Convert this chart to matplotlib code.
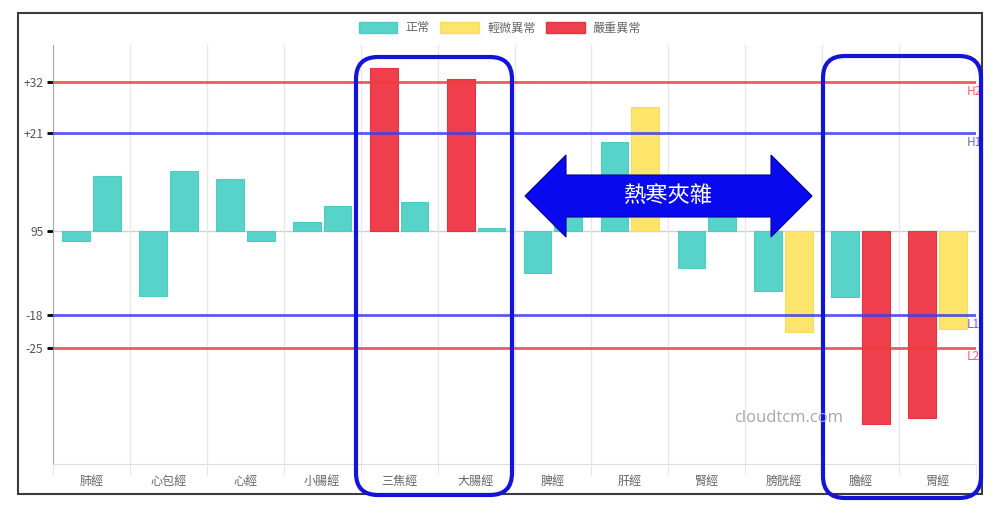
import numpy as np
import matplotlib
matplotlib.use("Agg")
import matplotlib.pyplot as plt
from matplotlib.patches import Patch, Rectangle, FancyBboxPatch, Polygon

plt.rcParams['font.family'] = ['Noto Sans CJK TC', 'DejaVu Sans']

# meridians and the two readings per meridian
categories = ['肺經', '心包經', '心經', '小腸經', '三焦經', '大腸經',
              '脾經', '肝經', '腎經', '膀胱經', '膽經', '胃經']
left_vals = [-2, -14, 11.3, 1.9, 35, 32.6, -8.9, 19.2, -7.9, -12.9, -14.2, -40.2]
right_vals = [11.9, 13, -2, 5.5, 6.2, 0.6, 6, 26.7, 5, -21.6, -41.4, -20.9]
left_status = ['正常', '正常', '正常', '正常', '嚴重異常', '嚴重異常',
               '正常', '正常', '正常', '正常', '正常', '嚴重異常']
right_status = ['正常', '正常', '正常', '正常', '正常', '正常',
                '正常', '輕微異常', '正常', '輕微異常', '嚴重異常', '輕微異常']

status_names = ['正常', '輕微異常', '嚴重異常']
status_colors = {'正常': '#58d3ca', '輕微異常': '#fde46b', '嚴重異常': '#ef3e4c'}
status_edges = {'正常': '#50cbc2', '輕微異常': '#f6dc62', '嚴重異常': '#e23444'}

# reference lines: value, tag, colour
ref_vals = [32, 21, -18, -25]
ref_tags = ['H2', 'H1', 'L1', 'L2']
ref_colors = ['#f03c3c', '#3c3cf0', '#3c3cf0', '#f03c3c']
ytick_vals = [32, 21, 0, -18, -25]
ytick_labels = ['+32', '+21', '95', '-18', '-25']

W, H = 1000, 516
fig = plt.figure(figsize=(W / 100, H / 100), dpi=100)
ax = fig.add_axes([0.053, 0.1008, 0.923, 0.812])

x = np.arange(len(categories))
bw = 0.36
ax.bar(x - 0.2, left_vals, bw, color=[status_colors[s] for s in left_status],
       edgecolor=[status_edges[s] for s in left_status], linewidth=0.8, zorder=2)
ax.bar(x + 0.2, right_vals, bw, color=[status_colors[s] for s in right_status],
       edgecolor=[status_edges[s] for s in right_status], linewidth=0.8, zorder=2)

ax.axhline(0, color='#d0d0d0', lw=1, zorder=1)
for v, tag, c in zip(ref_vals, ref_tags, ref_colors):
    ax.axhline(v, color=c, lw=2, alpha=0.85, zorder=3)
    ax.annotate(tag, xy=(1, v), xycoords=('axes fraction', 'data'),
                xytext=(-7, -2), textcoords='offset points', ha='left', va='top',
                fontsize=8.5, color=c, alpha=0.8, annotation_clip=False)

ax.set_xlim(-0.5, len(categories) - 0.5)
ax.set_ylim(-50, 40)
ax.set_xticks(x)
ax.set_xticklabels(categories)
ax.set_xticks(np.arange(len(categories) + 1) - 0.5, minor=True)
ax.tick_params(axis='x', which='major', length=0, pad=8, labelsize=8.7, labelcolor='#666666')
ax.tick_params(axis='x', which='minor', length=8, color='#e2e2e2')
ax.grid(True, axis='x', which='minor', color='#e8e8e8', lw=1, zorder=0)
ax.set_yticks(ytick_vals)
ax.set_yticklabels(ytick_labels)
ax.tick_params(axis='y', length=4, pad=3, labelsize=8.7, labelcolor='#555555')
tick_cols = ['#f03c3c', '#3c3cf0', '#bbbbbb', '#3c3cf0', '#f03c3c']
for t, c in zip(ax.yaxis.get_major_ticks(), tick_cols):
    t.tick1line.set_color(c)
    t.tick1line.set_markeredgewidth(2)

for s in ['top', 'right']:
    ax.spines[s].set_visible(False)
ax.spines['bottom'].set_color('#dddddd')
ax.spines['left'].set_color('#aaaaaa')

handles = [Patch(facecolor=status_colors[s], edgecolor=status_edges[s]) for s in status_names]
leg = fig.legend(handles, status_names, loc='center', bbox_to_anchor=(0.5, 1 - 28 / H),
                 ncol=3, frameon=False, fontsize=8.7, handlelength=3.2, handleheight=1.0,
                 handletextpad=0.68, columnspacing=0.85)
for t in leg.get_texts():
    t.set_color('#666666')

# overlay in pixel coordinates for the frame and hand-drawn marks
ov = fig.add_axes([0, 0, 1, 1], zorder=10)
ov.set_xlim(0, W)
ov.set_ylim(H, 0)
ov.axis('off')
ov.patch.set_alpha(0)

ov.add_patch(Rectangle((18, 13), 964, 481, fill=False, edgecolor='#3c3c3c', lw=1.5))
ov.text(789, 418, 'cloudtcm.com', fontsize=12, color='#a8a8a8', ha='center', va='center',
        family=['Open Sans', 'DejaVu Sans'])

for (bx, by, bwid, bht) in [(356, 57, 156, 438), (823, 56, 158, 442)]:
    ov.add_patch(FancyBboxPatch((bx, by), bwid, bht, boxstyle='round,pad=0,rounding_size=22',
                                fill=False, edgecolor='#1414d8', lw=3))

arrow_pts = [(525, 196), (566, 155), (566, 175), (771, 175), (771, 155), (812, 196),
             (771, 237), (771, 217), (566, 217), (566, 237)]
ov.add_patch(Polygon(arrow_pts, closed=True, facecolor='#0a0af0', edgecolor='#000090', lw=0.8))
ov.text(668, 195, '熱寒夾雜', fontsize=16, color='white', ha='center', va='center')

fig.savefig('out.png', dpi=100)
